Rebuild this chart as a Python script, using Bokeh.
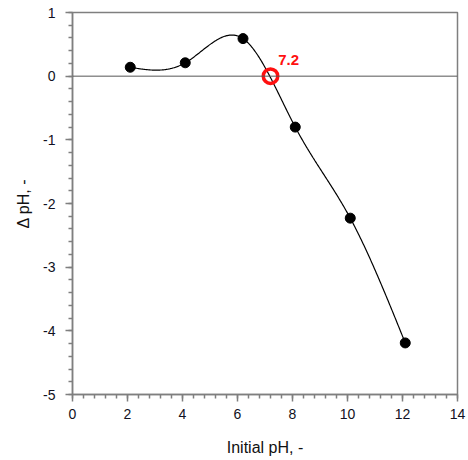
import numpy as np
from bokeh.plotting import figure
from bokeh.models import Span, Range1d, FixedTicker
from bokeh.embed import file_html
from bokeh.resources import INLINE
from bokeh.core.properties import value

# pH drift measurements
ph_initial = [2.1, 4.1, 6.2, 8.1, 10.1, 12.1]
delta_ph = [0.14, 0.21, 0.59, -0.80, -2.23, -4.19]
ph_pzc = 7.2
pzc_label = "7.2"

x_ticks = [0, 2, 4, 6, 8, 10, 12, 14]
y_ticks = [-5, -4, -3, -2, -1, 0, 1]


def natural_spline(xs, ys, n=400):
    """Natural cubic spline through (xs, ys), sampled on n points."""
    xs = np.asarray(xs, float)
    ys = np.asarray(ys, float)
    k = len(xs)
    h = np.diff(xs)
    A = np.zeros((k, k))
    b = np.zeros(k)
    A[0, 0] = A[-1, -1] = 1.0
    for i in range(1, k - 1):
        A[i, i - 1] = h[i - 1]
        A[i, i] = 2 * (h[i - 1] + h[i])
        A[i, i + 1] = h[i]
        b[i] = 3 * ((ys[i + 1] - ys[i]) / h[i] - (ys[i] - ys[i - 1]) / h[i - 1])
    c = np.linalg.solve(A, b)
    xx = np.linspace(xs[0], xs[-1], n)
    idx = np.clip(np.searchsorted(xs, xx) - 1, 0, k - 2)
    dx = xx - xs[idx]
    bb = (ys[idx + 1] - ys[idx]) / h[idx] - h[idx] * (2 * c[idx] + c[idx + 1]) / 3
    dd = (c[idx + 1] - c[idx]) / (3 * h[idx])
    yy = ys[idx] + bb * dx + c[idx] * dx ** 2 + dd * dx ** 3
    return xx, yy


FONT = "Liberation Sans"
GREY = "#7f7f7f"
RED = "#ff1010"

p = figure(
    width=468, height=460,
    frame_width=385, frame_height=382,
    x_range=Range1d(0, 14), y_range=Range1d(-5, 1),
    output_backend="svg", toolbar_location=None,
    min_border_left=72, min_border_right=11,
    min_border_top=12, min_border_bottom=66,
)
p.grid.visible = False
p.outline_line_color = GREY
p.outline_line_width = 1.5
p.background_fill_color = "white"
p.border_fill_color = "white"

# zero reference line
p.add_layout(Span(location=0, dimension="width", line_color="#555555", line_width=1))

sx, sy = natural_spline(ph_initial, delta_ph)
p.line(sx, sy, line_color="black", line_width=1.2)
p.scatter(ph_initial, delta_ph, size=10, fill_color="black", line_color="black")

# point of zero charge
p.scatter([ph_pzc], [0], size=14.5, fill_color=None, line_color=RED, line_width=3.5)
p.text([ph_pzc + 0.28], [0.26], text=[pzc_label], text_color=RED,
       text_font=value(FONT), text_font_size="15px", text_font_style="bold",
       text_baseline="alphabetic", text_align="left")

for ax in (p.xaxis[0], p.yaxis[0]):
    ax.axis_line_color = GREY
    ax.axis_line_width = 1.5
    ax.major_tick_line_color = GREY
    ax.minor_tick_line_color = GREY
    ax.major_tick_line_width = 1.5
    ax.minor_tick_line_width = 1.5
    ax.major_tick_in = 0
    ax.major_tick_out = 7
    ax.minor_tick_in = 0
    ax.minor_tick_out = 4
    ax.major_label_text_font = FONT
    ax.major_label_text_font_size = "14px"
    ax.major_label_text_color = "#111122"
    ax.axis_label_text_font = FONT
    ax.axis_label_text_font_size = "16px"
    ax.axis_label_text_font_style = "normal"
    ax.axis_label_text_color = "#111111"

p.xaxis.ticker = FixedTicker(ticks=x_ticks, minor_ticks=list(np.round(np.arange(0, 14.01, 0.4), 2)))
p.yaxis.ticker = FixedTicker(ticks=y_ticks, minor_ticks=list(np.round(np.arange(-5, 1.01, 0.2), 2)))
p.xaxis.major_label_overrides = {t: str(t) for t in x_ticks}
p.yaxis.major_label_overrides = {t: str(t) for t in y_ticks}
p.xaxis.axis_label = "Initial pH, -"
p.yaxis.axis_label = "Δ pH, -"
p.xaxis.major_label_standoff = 7
p.yaxis.major_label_standoff = 10
p.xaxis.axis_label_standoff = 17
p.yaxis.axis_label_standoff = 8

open("out.html", "w").write(file_html(p, INLINE))
